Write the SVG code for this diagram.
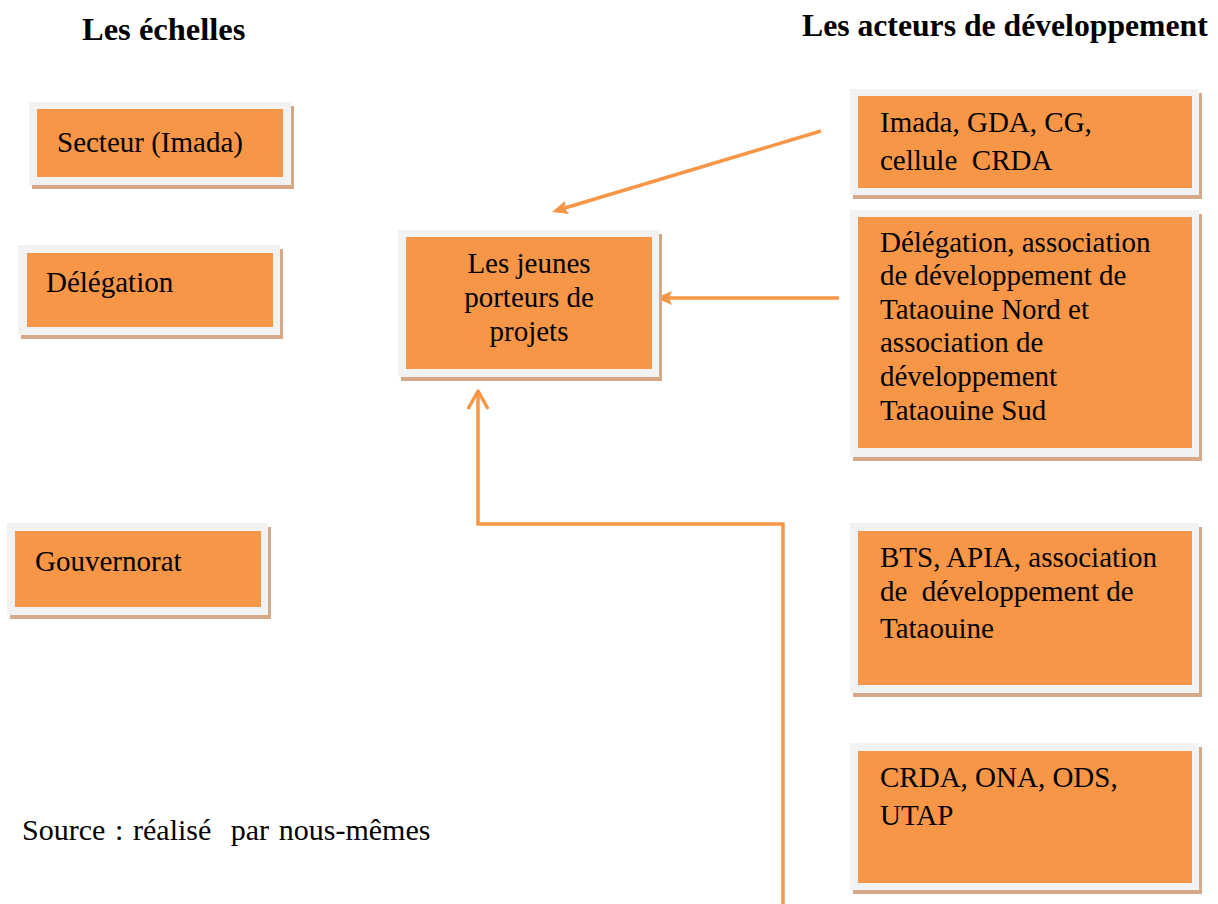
<svg xmlns="http://www.w3.org/2000/svg" width="1218" height="904" viewBox="0 0 1218 904">
<style>
text{font-family:"Liberation Serif","Times New Roman",serif;font-size:29px;fill:#000;white-space:pre}
.title{font-weight:bold}
.shadow{fill:#d5a88a}
.frame{fill:#f2f2f2}
.box{fill:#f79646}
.conn{fill:none;stroke:#f79646;stroke-width:3.5}
</style>
<defs>
<marker id="tri" markerUnits="userSpaceOnUse" viewBox="0 0 16 14" refX="12" refY="7" markerWidth="16" markerHeight="14" orient="auto" overflow="visible">
<path d="M0,0 L16,7 L0,14 L3,7 z" fill="#f79646"/>
</marker>
<marker id="vee" markerUnits="userSpaceOnUse" viewBox="0 0 20 22" refX="18" refY="11" markerWidth="20" markerHeight="22" orient="auto" overflow="visible">
<path d="M0,1 L18,11 L0,21" fill="none" stroke="#f79646" stroke-width="3.5" stroke-linejoin="round"/>
</marker>
</defs>
<rect width="1218" height="904" fill="#fff"/>
<text class="title" x="82" y="40" style="font-size:32.5px">Les échelles</text>
<text class="title" x="802" y="36" style="font-size:31.7px">Les acteurs de développement</text>

<g id="connectors">
<path class="conn" d="M821,131 L555.8,210.8" marker-end="url(#tri)"/>
<path class="conn" d="M839,298 L660,298" marker-end="url(#tri)"/>
<path class="conn" d="M783,904 L783,524 L478,524 L478,391" marker-end="url(#vee)"/>
</g>

<g id="secteur">
<rect class="shadow" x="32" y="106" width="262" height="83"/>
<rect class="frame" x="29" y="102" width="262" height="83"/>
<rect class="box" x="37" y="109" width="246" height="68"/>
<text x="57" y="152">Secteur (Imada)</text>
</g>
<g id="delegation">
<rect class="shadow" x="21" y="249" width="262" height="90"/>
<rect class="frame" x="18" y="245" width="262" height="90"/>
<rect class="box" x="27" y="253" width="246" height="74"/>
<text x="46" y="292">Délégation</text>
</g>
<g id="gouvernorat">
<rect class="shadow" x="10" y="527" width="261" height="92"/>
<rect class="frame" x="7" y="523" width="261" height="92"/>
<rect class="box" x="15" y="531" width="246" height="76"/>
<text x="35" y="571">Gouvernorat</text>
</g>
<g id="jeunes">
<rect class="shadow" x="401" y="234" width="261" height="147"/>
<rect class="frame" x="398" y="230" width="261" height="147"/>
<rect class="box" x="406" y="237" width="246" height="132"/>
<text x="529" y="273" text-anchor="middle">Les jeunes</text>
<text x="529" y="307" text-anchor="middle">porteurs de</text>
<text x="529" y="341" text-anchor="middle">projets</text>
</g>
<g id="acteurs-secteur">
<rect class="shadow" x="853" y="93" width="349" height="106"/>
<rect class="frame" x="850" y="89" width="349" height="106"/>
<rect class="box" x="858" y="96" width="334" height="92"/>
<text x="880" y="132">Imada, GDA, CG,</text>
<text x="880" y="170">cellule  CRDA</text>
</g>
<g id="acteurs-delegation">
<rect class="shadow" x="853" y="214" width="349" height="247"/>
<rect class="frame" x="850" y="210" width="349" height="247"/>
<rect class="box" x="858" y="217" width="334" height="231"/>
<text x="880" y="252">Délégation, association</text>
<text x="880" y="285">de développement de</text>
<text x="880" y="319">Tataouine Nord et</text>
<text x="880" y="352">association de</text>
<text x="880" y="386">développement</text>
<text x="880" y="420">Tataouine Sud</text>
</g>
<g id="acteurs-gouvernorat">
<rect class="shadow" x="853" y="527" width="349" height="170"/>
<rect class="frame" x="850" y="523" width="349" height="170"/>
<rect class="box" x="858" y="531" width="334" height="154"/>
<text x="880" y="567">BTS, APIA, association</text>
<text x="880" y="601">de  développement de</text>
<text x="880" y="638">Tataouine</text>
</g>
<g id="acteurs-national">
<rect class="shadow" x="853" y="747" width="349" height="147"/>
<rect class="frame" x="850" y="743" width="349" height="147"/>
<rect class="box" x="858" y="751" width="334" height="132"/>
<text x="880" y="787">CRDA, ONA, ODS,</text>
<text x="880" y="825">UTAP</text>
</g>
<text x="22" y="840" style="font-size:30px;word-spacing:2.2px">Source : réalisé  par nous-mêmes</text>
</svg>
